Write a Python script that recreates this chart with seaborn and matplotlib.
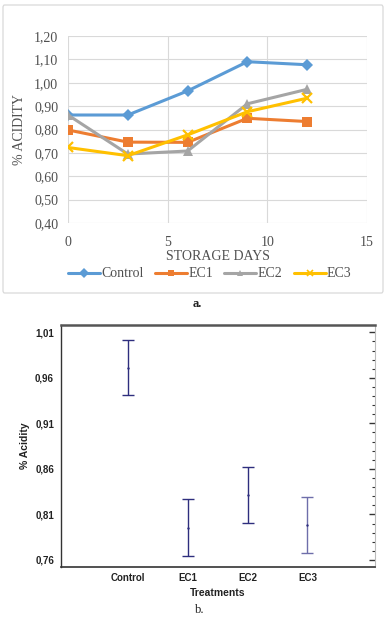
import numpy as np
import pandas as pd
import matplotlib
matplotlib.use("Agg")
import matplotlib.pyplot as plt
import seaborn as sns
from matplotlib.ticker import FuncFormatter, MultipleLocator
from matplotlib.patches import FancyBboxPatch
from matplotlib.lines import Line2D

# ---------------- data ----------------
days = [0, 3, 6, 9, 12]
control = [0.862, 0.862, 0.965, 1.090, 1.077]
ec1 = [0.798, 0.746, 0.745, 0.848, 0.834]
ec2 = [0.862, 0.695, 0.708, 0.910, 0.972]
ec3 = [0.723, 0.688, 0.777, 0.876, 0.934]
series_names = ["Control", "EC1", "EC2", "EC3"]

treatments = ["Control", "EC1", "EC2", "EC3"]
means = [0.971, 0.7955, 0.8314, 0.7984]
lower = [0.941, 0.7644, 0.8010, 0.7673]
upper = [1.002, 0.8266, 0.8618, 0.8288]

# ---------------- figure ----------------
sns.set_style("white")
W, H = 392, 619
fig = plt.figure(figsize=(W / 100, H / 100), dpi=100)

def ax_rect(x0, y0, x1, y1):
    return [x0 / W, 1 - y1 / H, (x1 - x0) / W, (y1 - y0) / H]

serif = ["Liberation Serif", "DejaVu Serif"]
narrow = ["Liberation Sans Narrow", "Liberation Sans", "DejaVu Sans"]
txt_gray = "#505050"

# outer box of chart a
box = FancyBboxPatch((3 / W, 1 - 293 / H), 380 / W, 288 / H,
                     boxstyle="round,pad=0,rounding_size=0.004",
                     transform=fig.transFigure, facecolor="white",
                     edgecolor="#d9d9d9", linewidth=0.9, zorder=-5)
fig.patches.append(box)

# ---------------- chart a ----------------
ax1 = fig.add_axes(ax_rect(68, 36, 367, 223))
ax1.set_zorder(2)
ax1.patch.set_alpha(0)
palette = {"Control": "#5b9bd5", "EC1": "#ed7d31", "EC2": "#a5a5a5", "EC3": "#ffc000"}
markers = {"Control": "D", "EC1": "s", "EC2": "^", "EC3": "x"}
msizes = {"Control": 6.5, "EC1": 7, "EC2": 7.5, "EC3": 7}
for name, vals in zip(series_names, [control, ec1, ec2, ec3]):
    df = pd.DataFrame({"day": days, "acidity": vals})
    is_x = markers[name] == "x"
    sns.lineplot(data=df, x="day", y="acidity", color=palette[name], marker=markers[name],
                 markersize=msizes[name], linewidth=2.2, ax=ax1, zorder=3,
                 markeredgewidth=(1.6 if is_x else 0), markeredgecolor=palette[name])
ax1.set_xlim(0, 15)
ax1.set_ylim(0.40, 1.20)
ax1.xaxis.set_major_locator(MultipleLocator(5))
ax1.yaxis.set_major_locator(MultipleLocator(0.10))
ax1.yaxis.set_major_formatter(FuncFormatter(lambda v, p: f"{v:.2f}".replace(".", ",")))
ax1.grid(True, color="#d9d9d9", linewidth=0.8)
ax1.set_axisbelow(True)
for s in ax1.spines.values():
    s.set_visible(False)
ax1.tick_params(length=0, labelsize=10, colors=txt_gray, pad=7)
for lab in ax1.get_xticklabels() + ax1.get_yticklabels():
    lab.set_family(serif)
ax1.tick_params(axis="x", pad=9)
ax1.set_xlabel("STORAGE DAYS", family=serif, fontsize=10, color=txt_gray)
ax1.xaxis.set_label_coords(0.5, (223 - 250) / 187)
ax1.set_ylabel("% ACIDITY", family=serif, fontsize=10, color=txt_gray, labelpad=6)

handles = [Line2D([0], [0], color=palette[n], lw=2.2, marker=markers[n], markersize=5,
                  markeredgewidth=(1.2 if markers[n] == "x" else 0),
                  markeredgecolor=palette[n]) for n in series_names]
fig.legend(handles, series_names, loc="center", bbox_to_anchor=(210 / W, 1 - 274 / H),
           ncol=4, frameon=False, prop={"family": serif, "size": 10},
           handlelength=2.3, handletextpad=0.1, columnspacing=0.8, labelcolor=txt_gray)
fig.text(197 / W, 1 - 304 / H, "a.", family=serif, fontsize=9, fontweight="bold",
         ha="center", va="center", color="#222222")

# ---------------- chart b ----------------
ax2 = fig.add_axes(ax_rect(61, 325, 375, 567))
pos = np.arange(len(treatments))
colors = ["#2e2e7e", "#2e2e7e", "#2e2e7e", "#6e6eaa"]
for i in range(len(treatments)):
    ax2.errorbar([pos[i]], [means[i]],
                 yerr=[[means[i] - lower[i]], [upper[i] - means[i]]],
                 fmt="none", ecolor=colors[i], elinewidth=1.0, capsize=4.5,
                 capthick=1.0, zorder=3)
sns.scatterplot(x=pos, y=means, ax=ax2, color="#2e2e7e", s=3, linewidth=0, zorder=4)
ax2.set_xlim(-1.12, 4.13)
ax2.set_ylim(0.7523, 1.018)
ax2.set_xticks(pos)
ax2.set_xticklabels(treatments)
ax2.set_yticks([0.76, 0.81, 0.86, 0.91, 0.96, 1.01])
ax2.yaxis.set_major_formatter(FuncFormatter(lambda v, p: f"{v:.2f}".replace(".", ",")))
ax2.yaxis.set_minor_locator(MultipleLocator(0.01))
ax2.tick_params(axis="y", which="major", direction="out", length=4, width=1, color="#333333",
                labelsize=7, pad=1)
ax2.tick_params(axis="y", which="minor", direction="out", length=2, width=0.8, color="#333333")
ax2.tick_params(axis="x", length=0, labelsize=7, pad=4)
for lab in ax2.get_xticklabels() + ax2.get_yticklabels():
    lab.set_family(narrow)
    lab.set_fontweight("bold")
    lab.set_color("#222222")
ax2r = ax2.secondary_yaxis("right")
ax2r.set_yticks([0.76, 0.81, 0.86, 0.91, 0.96, 1.01])
ax2r.yaxis.set_minor_locator(MultipleLocator(0.01))
ax2r.tick_params(axis="y", which="major", direction="in", length=4, width=1, color="#333333",
                 labelright=False)
ax2r.tick_params(axis="y", which="minor", direction="in", length=2, width=0.8, color="#333333")
ax2r.spines["right"].set_visible(False)
ax2.tick_params(axis="y", which="both", right=False)

ax2.spines["top"].set_color("#555555")
ax2.spines["top"].set_linewidth(1.8)
ax2.spines["left"].set_color("#333333")
ax2.spines["left"].set_linewidth(1.0)
ax2.spines["bottom"].set_color("#333333")
ax2.spines["bottom"].set_linewidth(1.2)
ax2.spines["right"].set_color("#bbbbbb")
ax2.spines["right"].set_linewidth(0.8)

ax2.set_xlabel("Treatments", family=narrow, fontsize=7.5, fontweight="bold", color="#222222",
               labelpad=4)
ax2.set_ylabel("% Acidity", family=narrow, fontsize=7.5, fontweight="bold", color="#222222",
               labelpad=4)
fig.text(200 / W, 1 - 610 / H, "b.", family=serif, fontsize=9, ha="center", va="center",
         color="#222222")

fig.savefig("out.png", dpi=100)
